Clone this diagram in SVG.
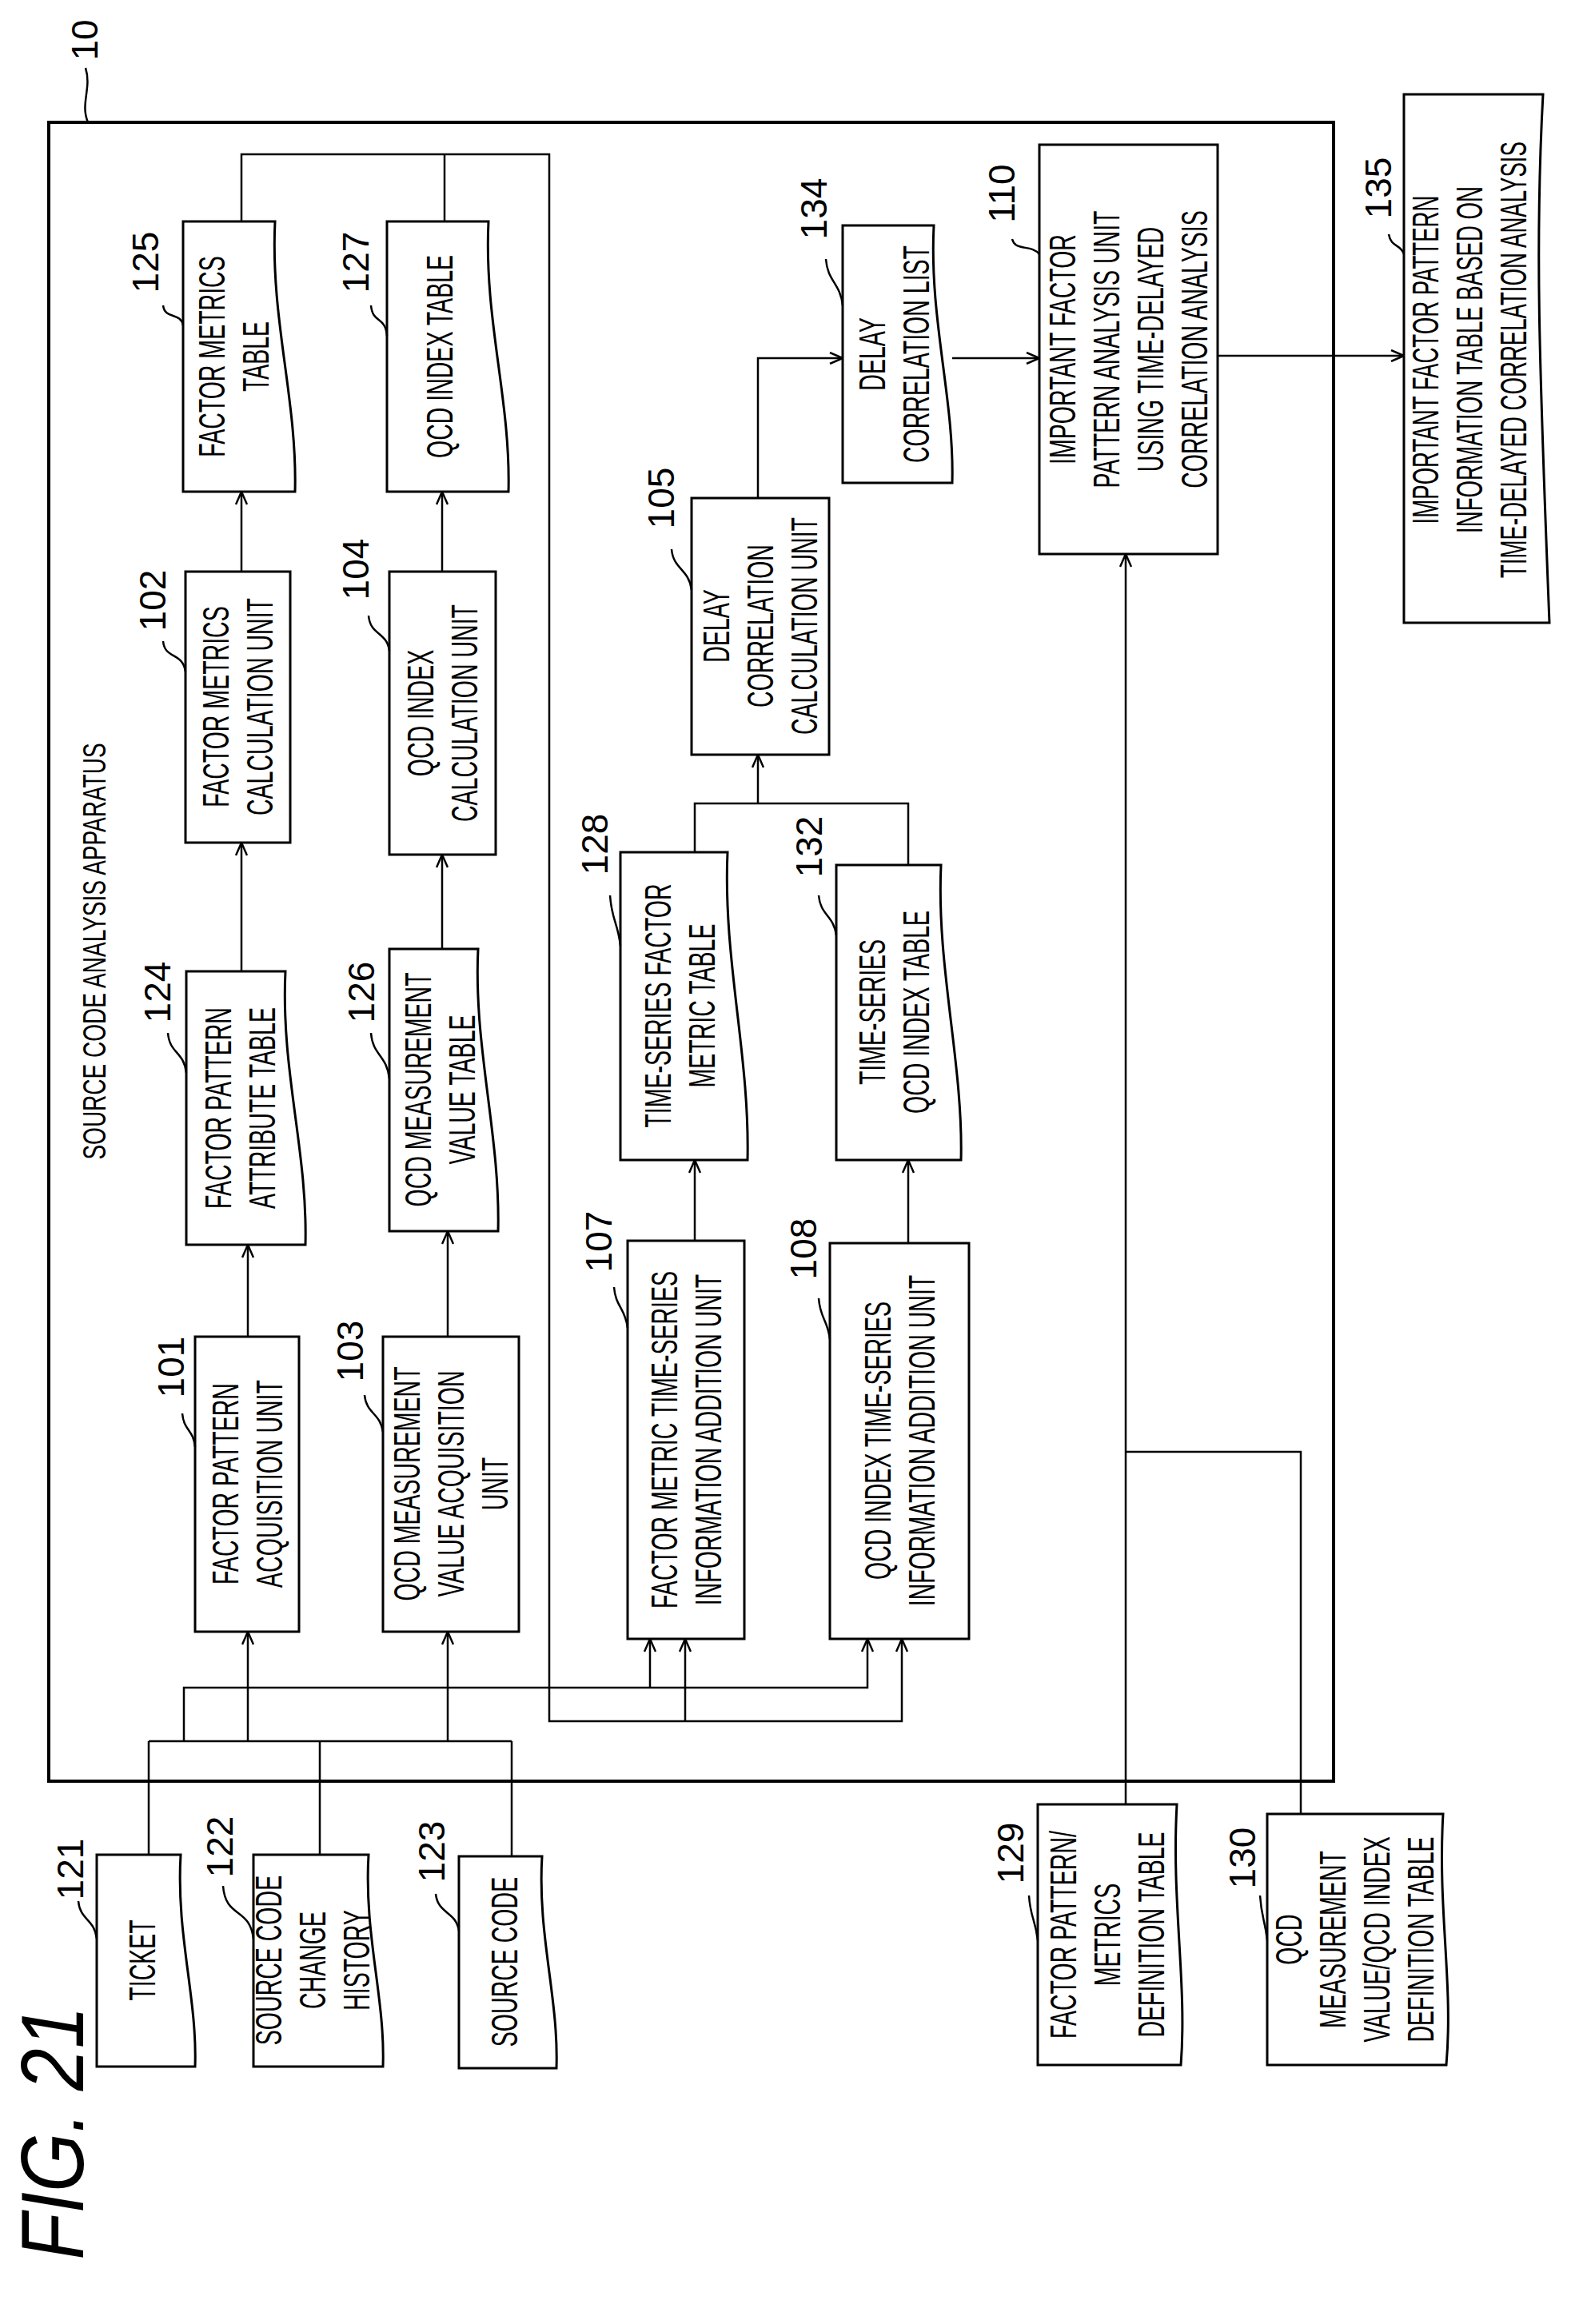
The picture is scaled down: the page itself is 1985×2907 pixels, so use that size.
<svg xmlns="http://www.w3.org/2000/svg" width="1985" height="2907" viewBox="0 0 1985 2907">
<style>
.b{fill:#fff;stroke:#000;stroke-width:3}
.c{fill:none;stroke:#000;stroke-width:2.5}
.a{marker-end:url(#ar)}
.t{font-family:"Liberation Sans",Arial,sans-serif;font-size:46px;text-anchor:middle;fill:#000}
.n{font-family:"Liberation Sans",Arial,sans-serif;font-size:46px;text-anchor:middle;fill:#000}
</style>
<defs><marker id="ar" markerWidth="18" markerHeight="16" refX="17" refY="8" orient="auto" markerUnits="userSpaceOnUse"><path d="M1,1 L17,8 L1,15" fill="none" stroke="#000" stroke-width="2.5"/></marker></defs>
<rect width="1985" height="2907" fill="#fff"/>
<text transform="translate(104,2668) rotate(-90) scale(0.85 1)" style="font-family:'Liberation Sans',Arial,sans-serif;font-size:112px;font-style:italic;text-anchor:middle">FIG. 21</text>
<g id="n10">
<rect x="61" y="153" width="1607" height="2075" fill="none" stroke="#000" stroke-width="4"/>
<text class="n" transform="translate(122,50) rotate(-90)">10</text>
<path class="c" d="M107,85 C115,110 100,130 110,153"/>
<text class="t" transform="translate(132,1190) rotate(-90) scale(0.7 1)" style="font-size:40px">SOURCE CODE ANALYSIS APPARATUS</text>
</g>
<g id="connectors">
<path class="c" d="M186,2320V2178M400,2320V2178M640,2322V2178M186,2178H640"/>
<path class="c a" d="M310,2178V2041"/>
<path class="c a" d="M560,2178V2041"/>
<path class="c a" d="M230,2178V2111H1085V2050"/>
<path class="c a" d="M813,2111V2050"/>
<path class="c a" d="M302,277V193H687V2153H1128V2050"/>
<path class="c" d="M556,277V193"/>
<path class="c a" d="M857,2153V2050"/>
<path class="c a" d="M310,1672V1557"/>
<path class="c a" d="M302,1215V1054"/>
<path class="c a" d="M302,715V615"/>
<path class="c a" d="M560,1672V1540"/>
<path class="c a" d="M553,1187V1069"/>
<path class="c a" d="M553,715V615"/>
<path class="c a" d="M869,1552V1451"/>
<path class="c a" d="M1136,1555V1451"/>
<path class="c" d="M869,1066V1005H1136V1082"/>
<path class="c a" d="M948,1005V944"/>
<path class="c a" d="M948,623V448H1054"/>
<path class="c a" d="M1191,448H1300"/>
<path class="c a" d="M1523,445H1756"/>
<path class="c a" d="M1408,2257V693"/>
<path class="c" d="M1627,2269V1816H1408"/>
</g>
<g id="n125"><path class="b" d="M229,277H344C338,400 372,500 369,615H229Z"/>
<text class="t" transform="translate(292,446) rotate(-90) scale(0.62 1)"><tspan x="0" dy="-11">FACTOR METRICS</tspan><tspan x="0" dy="55">TABLE</tspan></text>
<text class="n" transform="translate(198,328) rotate(-90)">125</text><path class="c" d="M204,382C206,400 226,390 229,407"/></g>
<g id="n127"><path class="b" d="M484,277H611C605,400 639,500 636,615H484Z"/>
<text class="t" transform="translate(550,446) rotate(-90) scale(0.62 1)"><tspan x="0" dy="16">QCD INDEX TABLE</tspan></text>
<text class="n" transform="translate(461,328) rotate(-90)">127</text><path class="c" d="M464,382C466,405 482,395 484,420"/></g>
<g id="n102"><rect class="b" x="232" y="715" width="131" height="339"/>
<text class="t" transform="translate(297,884) rotate(-90) scale(0.62 1)"><tspan x="0" dy="-11">FACTOR METRICS</tspan><tspan x="0" dy="55">CALCULATION UNIT</tspan></text>
<text class="n" transform="translate(207,751) rotate(-90)">102</text><path class="c" d="M204,802C206,825 228,815 232,840"/></g>
<g id="n104"><rect class="b" x="487" y="715" width="133" height="354"/>
<text class="t" transform="translate(553,892) rotate(-90) scale(0.62 1)"><tspan x="0" dy="-11">QCD INDEX</tspan><tspan x="0" dy="55">CALCULATION UNIT</tspan></text>
<text class="n" transform="translate(461,712) rotate(-90)">104</text><path class="c" d="M461,770C463,795 484,790 487,814"/></g>
<g id="n124"><path class="b" d="M233,1215H357C351,1340 385,1440 382,1557H233Z"/>
<text class="t" transform="translate(300,1386) rotate(-90) scale(0.62 1)"><tspan x="0" dy="-11">FACTOR PATTERN</tspan><tspan x="0" dy="55">ATTRIBUTE TABLE</tspan></text>
<text class="n" transform="translate(213,1241) rotate(-90)">124</text><path class="c" d="M210,1292C212,1318 230,1315 233,1342"/></g>
<g id="n126"><path class="b" d="M487,1187H598C592,1310 626,1420 623,1540H487Z"/>
<text class="t" transform="translate(550,1363) rotate(-90) scale(0.62 1)"><tspan x="0" dy="-11">QCD MEASUREMENT</tspan><tspan x="0" dy="55">VALUE TABLE</tspan></text>
<text class="n" transform="translate(468,1241) rotate(-90)">126</text><path class="c" d="M464,1292C466,1320 484,1320 487,1349"/></g>
<g id="n101"><rect class="b" x="244" y="1672" width="130" height="369"/>
<text class="t" transform="translate(309,1856) rotate(-90) scale(0.62 1)"><tspan x="0" dy="-11">FACTOR PATTERN</tspan><tspan x="0" dy="55">ACQUISITION UNIT</tspan></text>
<text class="n" transform="translate(230,1710) rotate(-90)">101</text><path class="c" d="M228,1768C230,1790 242,1788 244,1810"/></g>
<g id="n103"><rect class="b" x="479" y="1672" width="170" height="369"/>
<text class="t" transform="translate(564,1856) rotate(-90) scale(0.62 1)"><tspan x="0" dy="-39">QCD MEASUREMENT</tspan><tspan x="0" dy="55">VALUE ACQUISITION</tspan><tspan x="0" dy="55">UNIT</tspan></text>
<text class="n" transform="translate(454,1690) rotate(-90)">103</text><path class="c" d="M456,1745C458,1768 476,1768 479,1791"/></g>
<g id="n128"><path class="b" d="M776,1066H910C904,1200 938,1320 935,1451H776Z"/>
<text class="t" transform="translate(850,1258) rotate(-90) scale(0.62 1)"><tspan x="0" dy="-11">TIME-SERIES FACTOR</tspan><tspan x="0" dy="55">METRIC TABLE</tspan></text>
<text class="n" transform="translate(760,1056) rotate(-90)">128</text><path class="c" d="M763,1120C765,1150 773,1155 776,1183"/></g>
<g id="n132"><path class="b" d="M1046,1082H1177C1171,1210 1205,1330 1202,1451H1046Z"/>
<text class="t" transform="translate(1118,1266) rotate(-90) scale(0.62 1)"><tspan x="0" dy="-11">TIME-SERIES</tspan><tspan x="0" dy="55">QCD INDEX TABLE</tspan></text>
<text class="n" transform="translate(1028,1059) rotate(-90)">132</text><path class="c" d="M1024,1120C1026,1145 1043,1145 1046,1170"/></g>
<g id="n107"><rect class="b" x="785" y="1552" width="146" height="498"/>
<text class="t" transform="translate(858,1801) rotate(-90) scale(0.62 1)"><tspan x="0" dy="-11">FACTOR METRIC TIME-SERIES</tspan><tspan x="0" dy="55">INFORMATION ADDITION UNIT</tspan></text>
<text class="n" transform="translate(765,1553) rotate(-90)">107</text><path class="c" d="M768,1610C770,1635 782,1636 785,1661"/></g>
<g id="n108"><rect class="b" x="1038" y="1555" width="174" height="495"/>
<text class="t" transform="translate(1125,1802) rotate(-90) scale(0.62 1)"><tspan x="0" dy="-11">QCD INDEX TIME-SERIES</tspan><tspan x="0" dy="55">INFORMATION ADDITION UNIT</tspan></text>
<text class="n" transform="translate(1021,1562) rotate(-90)">108</text><path class="c" d="M1024,1624C1026,1650 1035,1650 1038,1675"/></g>
<g id="n105"><rect class="b" x="865" y="623" width="172" height="321"/>
<text class="t" transform="translate(951,783) rotate(-90) scale(0.62 1)"><tspan x="0" dy="-39">DELAY</tspan><tspan x="0" dy="55">CORRELATION</tspan><tspan x="0" dy="55">CALCULATION UNIT</tspan></text>
<text class="n" transform="translate(843,623) rotate(-90)">105</text><path class="c" d="M840,687C842,712 862,712 865,738"/></g>
<g id="n134"><path class="b" d="M1054,282H1168C1162,400 1194,500 1191,604H1054Z"/>
<text class="t" transform="translate(1118,443) rotate(-90) scale(0.62 1)"><tspan x="0" dy="-11">DELAY</tspan><tspan x="0" dy="55">CORRELATION LIST</tspan></text>
<text class="n" transform="translate(1034,261) rotate(-90)">134</text><path class="c" d="M1033,324C1035,352 1051,354 1054,382"/></g>
<g id="n110"><rect class="b" x="1300" y="181" width="223" height="512"/>
<text class="t" transform="translate(1411,437) rotate(-90) scale(0.62 1)"><tspan x="0" dy="-66">IMPORTANT FACTOR</tspan><tspan x="0" dy="55">PATTERN ANALYSIS UNIT</tspan><tspan x="0" dy="55">USING TIME-DELAYED</tspan><tspan x="0" dy="55">CORRELATION ANALYSIS</tspan></text>
<text class="n" transform="translate(1269,242) rotate(-90)">110</text><path class="c" d="M1266,299C1270,315 1290,305 1300,318"/></g>
<g id="n135"><path class="b" d="M1756,118H1930C1920,300 1925,450 1938,779H1756Z"/>
<text class="t" transform="translate(1838,450) rotate(-90) scale(0.6 1)"><tspan x="0" dy="-39">IMPORTANT FACTOR PATTERN</tspan><tspan x="0" dy="55">INFORMATION TABLE BASED ON</tspan><tspan x="0" dy="55">TIME-DELAYED CORRELATION ANALYSIS</tspan></text>
<text class="n" transform="translate(1740,235) rotate(-90)">135</text><path class="c" d="M1737,293C1740,310 1752,305 1756,318"/></g>
<g id="n121"><path class="b" d="M121,2320H226C220,2420 247,2500 244,2585H121Z"/>
<text class="t" transform="translate(178,2452) rotate(-90) scale(0.62 1)"><tspan x="0" dy="16">TICKET</tspan></text>
<text class="n" transform="translate(104,2338) rotate(-90)">121</text><path class="c" d="M98,2378C100,2402 118,2400 121,2425"/></g>
<g id="n122"><path class="b" d="M317,2320H461C455,2420 482,2500 479,2585H317Z"/>
<text class="t" transform="translate(391,2452) rotate(-90) scale(0.62 1)"><tspan x="0" dy="-39">SOURCE CODE</tspan><tspan x="0" dy="55">CHANGE</tspan><tspan x="0" dy="55">HISTORY</tspan></text>
<text class="n" transform="translate(291,2310) rotate(-90)">122</text><path class="c" d="M279,2359C282,2400 312,2385 317,2425"/></g>
<g id="n123"><path class="b" d="M574,2322H678C672,2420 699,2500 696,2587H574Z"/>
<text class="t" transform="translate(631,2454) rotate(-90) scale(0.62 1)"><tspan x="0" dy="16">SOURCE CODE</tspan></text>
<text class="n" transform="translate(556,2316) rotate(-90)">123</text><path class="c" d="M545,2369C548,2395 570,2390 574,2415"/></g>
<g id="n129"><path class="b" d="M1298,2257H1472C1465,2380 1485,2480 1477,2583H1298Z"/>
<text class="t" transform="translate(1385,2420) rotate(-90) scale(0.62 1)"><tspan x="0" dy="-39">FACTOR PATTERN/</tspan><tspan x="0" dy="55">METRICS</tspan><tspan x="0" dy="55">DEFINITION TABLE</tspan></text>
<text class="n" transform="translate(1280,2318) rotate(-90)">129</text><path class="c" d="M1287,2371C1289,2400 1295,2400 1298,2427"/></g>
<g id="n130"><path class="b" d="M1585,2269H1805C1798,2390 1818,2480 1809,2583H1585Z"/>
<text class="t" transform="translate(1694,2426) rotate(-90) scale(0.62 1)"><tspan x="0" dy="-66">QCD</tspan><tspan x="0" dy="55">MEASUREMENT</tspan><tspan x="0" dy="55">VALUE/QCD INDEX</tspan><tspan x="0" dy="55">DEFINITION TABLE</tspan></text>
<text class="n" transform="translate(1570,2324) rotate(-90)">130</text><path class="c" d="M1576,2371C1578,2400 1582,2400 1585,2427"/></g>
</svg>
